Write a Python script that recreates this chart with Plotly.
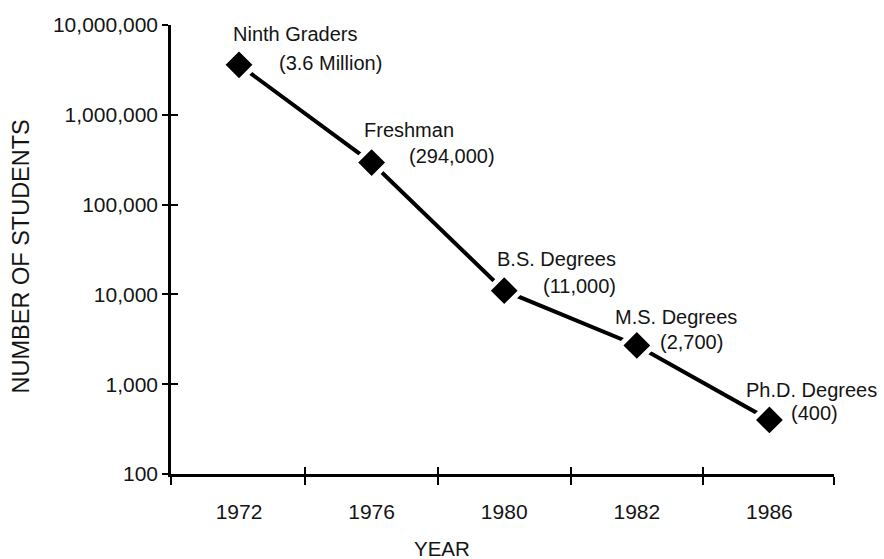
import math
import plotly.graph_objects as go

# Education pipeline: cohort shrinking from ninth grade to Ph.D.
years = ["1972", "1976", "1980", "1982", "1986"]
stages = ["Ninth Graders", "Freshman", "B.S. Degrees", "M.S. Degrees", "Ph.D. Degrees"]
students = [3_600_000, 294_000, 11_000, 2_700, 400]
value_labels = ["(3.6 Million)", "(294,000)", "(11,000)", "(2,700)", "(400)"]

y_tick_values = [100, 1_000, 10_000, 100_000, 1_000_000, 10_000_000]
y_tick_labels = ["100", "1,000", "10,000", "100,000", "1,000,000", "10,000,000"]

FONT = "Liberation Sans, Arial, Helvetica, sans-serif"
INK = "#141414"

xpos = list(range(len(years)))
x_range = [-0.513, 4.487]
x_edges = [x_range[0], 0.5, 1.5, 2.5, 3.5, x_range[1]]

fig = go.Figure()

fig.add_trace(go.Scatter(
    x=xpos, y=students, mode="lines+markers",
    line=dict(color="black", width=4),
    marker=dict(symbol="diamond", size=26, color="black",
                line=dict(color="white", width=5)),
    hoverinfo="skip", showlegend=False,
))

# label offsets (pixels) relative to each marker: (name dx, name dy, value dx, value dy)
offsets = [(-8, 31, 38, 2), (-10, 33, 35, 7), (-9, 32, 37, 5), (-24, 28, 21, 3), (-25, 30, 20, 7)]
for i, (stage, val, lab) in enumerate(zip(stages, students, value_labels)):
    ndx, ndy, vdx, vdy = offsets[i]
    fig.add_annotation(x=i, y=math.log10(val), text=stage, showarrow=False,
                       xanchor="left", yanchor="middle", xshift=ndx, yshift=ndy,
                       font=dict(family=FONT, size=20, color=INK))
    fig.add_annotation(x=i, y=math.log10(val), text=lab, showarrow=False,
                       xanchor="left", yanchor="middle", xshift=vdx, yshift=vdy,
                       font=dict(family=FONT, size=20, color=INK))

# axis titles
fig.add_annotation(xref="paper", yref="paper", x=-0.226, y=0.485, text="NUMBER OF STUDENTS",
                   textangle=-90, showarrow=False, xanchor="center", yanchor="middle",
                   font=dict(family=FONT, size=23.5, color=INK))
fig.add_annotation(xref="paper", yref="paper", x=0.409, y=-0.165, text="YEAR",
                   showarrow=False, xanchor="center", yanchor="middle",
                   font=dict(family=FONT, size=20.5, color=INK))

axis_font = dict(family=FONT, size=21, color=INK)

fig.update_layout(
    width=884, height=559,
    margin=dict(l=171, r=50, t=25, b=85),
    paper_bgcolor="white", plot_bgcolor="white",
    xaxis=dict(
        range=x_range, showgrid=False, zeroline=False,
        showline=True, linecolor="black", linewidth=2.5,
        tickmode="array", tickvals=xpos, ticktext=years, ticks="",
        ticklabelstandoff=17, tickfont=axis_font,
        minor=dict(tickmode="array", tickvals=x_edges, ticks="outside",
                   ticklen=8, tickwidth=2, tickcolor="black", showgrid=False),
    ),
    xaxis2=dict(
        range=x_range, overlaying="x", anchor="y", side="bottom",
        showgrid=False, zeroline=False, showline=False,
        tickmode="array", tickvals=x_edges, ticks="inside",
        ticklen=7, tickwidth=2, tickcolor="black", showticklabels=False,
    ),
    yaxis=dict(
        type="log", range=[2, 7], showgrid=False, zeroline=False,
        showline=True, linecolor="black", linewidth=2.5,
        tickmode="array", tickvals=y_tick_values, ticktext=y_tick_labels,
        ticks="outside", ticklen=6, tickwidth=2, tickcolor="black",
        ticklabelstandoff=0, tickfont=axis_font,
    ),
    yaxis2=dict(
        type="log", range=[2, 7], overlaying="y", anchor="x", side="left",
        showgrid=False, zeroline=False, showline=False,
        tickmode="array", tickvals=y_tick_values, ticks="inside",
        ticklen=7, tickwidth=2, tickcolor="black", showticklabels=False,
    ),
)

# invisible trace so the overlay axes are drawn
fig.add_trace(go.Scatter(x=[None], y=[None], xaxis="x2", yaxis="y2",
                         showlegend=False, hoverinfo="skip"))

fig.write_html("out.html")
